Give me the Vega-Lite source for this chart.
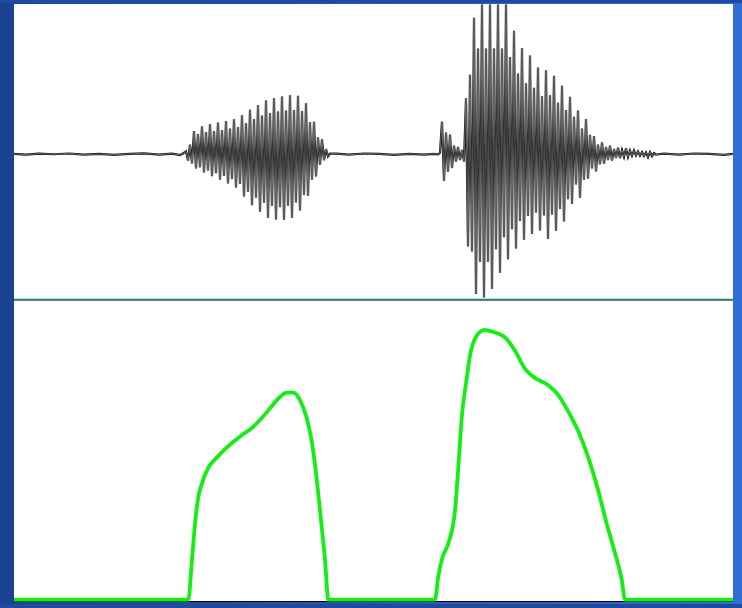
{
  "$schema": "https://vega.github.io/schema/vega-lite/v6.json",
  "width": 742,
  "height": 608,
  "autosize": {"type": "fit", "contains": "padding"},
  "padding": 0,
  "background": "#1f4a9e",
  "config": {"view": {"stroke": null}},
  "datasets": {
    "wave": [
      {"t":0,"a":0.003},{"t":12,"a":-0.002},{"t":25,"a":0.004},{"t":40,"a":0},{"t":55,"a":0.005},{"t":70,"a":-0.003},{"t":85,"a":0.002},{"t":100,"a":-0.004},{"t":115,"a":0.003},{"t":130,"a":0.006},{"t":145,"a":-0.002},{"t":158,"a":0.004},{"t":166,"a":-0.006},{"t":170,"a":0.01},
      {"t":172,"a":0.02},{"t":174,"a":-0.044},{"t":176,"a":0.066},{"t":178,"a":-0.063},{"t":180,"a":0.159},{"t":182,"a":-0.098},{"t":184,"a":0.138},{"t":186,"a":-0.09},{"t":188,"a":0.193},{"t":190,"a":-0.126},{"t":192,"a":0.152},{"t":194,"a":-0.111},{"t":196,"a":0.208},{"t":198,"a":-0.151},{"t":200,"a":0.16},{"t":202,"a":-0.13},{"t":204,"a":0.218},{"t":206,"a":-0.175},{"t":208,"a":0.167},{"t":210,"a":-0.15},{"t":212,"a":0.229},{"t":214,"a":-0.201},{"t":216,"a":0.176},{"t":218,"a":-0.171},{"t":220,"a":0.24},{"t":222,"a":-0.228},{"t":224,"a":0.188},{"t":226,"a":-0.205},{"t":228,"a":0.268},{"t":230,"a":-0.29},{"t":232,"a":0.215},{"t":234,"a":-0.258},{"t":236,"a":0.306},{"t":238,"a":-0.351},{"t":240,"a":0.242},{"t":242,"a":-0.299},{"t":244,"a":0.338},{"t":246,"a":-0.396},{"t":248,"a":0.266},{"t":250,"a":-0.334},{"t":252,"a":0.37},{"t":254,"a":-0.437},{"t":256,"a":0.284},{"t":258,"a":-0.354},{"t":260,"a":0.385},{"t":262,"a":-0.449},{"t":264,"a":0.294},{"t":266,"a":-0.365},{"t":268,"a":0.397},{"t":270,"a":-0.45},{"t":272,"a":0.301},{"t":274,"a":-0.354},{"t":276,"a":0.405},{"t":278,"a":-0.437},{"t":280,"a":0.305},{"t":282,"a":-0.332},{"t":284,"a":0.402},{"t":286,"a":-0.387},{"t":288,"a":0.297},{"t":290,"a":-0.281},{"t":292,"a":0.351},{"t":294,"a":-0.285},{"t":296,"a":0.22},{"t":298,"a":-0.175},{"t":300,"a":0.223},{"t":302,"a":-0.153},{"t":304,"a":0.117},{"t":306,"a":-0.074},{"t":308,"a":0.102},{"t":310,"a":-0.041},{"t":312,"a":0.035},{"t":314,"a":-0.014},{"t":316,"a":0.005},
      {"t":322,"a":0.004},{"t":335,"a":-0.003},{"t":350,"a":0.005},{"t":365,"a":0.002},{"t":380,"a":-0.004},{"t":395,"a":0.003},{"t":410,"a":-0.002},{"t":420,"a":0.003},
      {"t":424,"a":0},{"t":426,"a":0.01},{"t":428,"a":0.224},{"t":430,"a":-0.184},{"t":432,"a":0.15},{"t":434,"a":-0.12},{"t":436,"a":0.136},{"t":438,"a":-0.095},{"t":440,"a":0.06},{"t":442,"a":-0.05},{"t":444,"a":0.05},{"t":446,"a":-0.04},{"t":448,"a":0.03},{"t":450,"a":-0.05},
      {"t":452,"a":0.385},{"t":454,"a":-0.635},{"t":456,"a":0.547},{"t":458,"a":-0.67},{"t":460,"a":0.939},{"t":462,"a":-0.961},{"t":464,"a":0.728},{"t":466,"a":-0.74},{"t":468,"a":1.03},{"t":470,"a":-0.986},{"t":472,"a":0.728},{"t":474,"a":-0.74},{"t":476,"a":1.03},{"t":478,"a":-0.927},{"t":480,"a":0.728},{"t":482,"a":-0.653},{"t":484,"a":1.03},{"t":486,"a":-0.816},{"t":488,"a":0.728},{"t":490,"a":-0.572},{"t":492,"a":1.03},{"t":494,"a":-0.723},{"t":496,"a":0.669},{"t":498,"a":-0.516},{"t":500,"a":0.849},{"t":502,"a":-0.649},{"t":504,"a":0.555},{"t":506,"a":-0.459},{"t":508,"a":0.729},{"t":510,"a":-0.589},{"t":512,"a":0.488},{"t":514,"a":-0.425},{"t":516,"a":0.68},{"t":518,"a":-0.548},{"t":520,"a":0.457},{"t":522,"a":-0.401},{"t":524,"a":0.597},{"t":526,"a":-0.524},{"t":528,"a":0.399},{"t":530,"a":-0.422},{"t":532,"a":0.578},{"t":534,"a":-0.584},{"t":536,"a":0.405},{"t":538,"a":-0.414},{"t":540,"a":0.54},{"t":542,"a":-0.526},{"t":544,"a":0.354},{"t":546,"a":-0.377},{"t":548,"a":0.472},{"t":550,"a":-0.463},{"t":552,"a":0.304},{"t":554,"a":-0.31},{"t":556,"a":0.395},{"t":558,"a":-0.342},{"t":560,"a":0.258},{"t":562,"a":-0.208},{"t":564,"a":0.3},{"t":566,"a":-0.299},{"t":568,"a":0.177},{"t":570,"a":-0.175},{"t":572,"a":0.243},{"t":574,"a":-0.168},{"t":576,"a":0.133},{"t":578,"a":-0.098},{"t":580,"a":0.125},{"t":582,"a":-0.119},{"t":584,"a":0.067},{"t":586,"a":-0.069},{"t":588,"a":0.082},{"t":590,"a":-0.065},{"t":592,"a":0.05},{"t":594,"a":-0.041},{"t":596,"a":0.059},{"t":598,"a":-0.044},{"t":600,"a":0.036},{"t":602,"a":-0.026},{"t":604,"a":0.045},{"t":606,"a":-0.027},{"t":608,"a":0.029},{"t":610,"a":-0.018},{"t":612,"a":0.041},{"t":614,"a":-0.018},{"t":616,"a":0.025},{"t":618,"a":-0.01},{"t":620,"a":0.026},{"t":622,"a":-0.008},{"t":624,"a":0.019},{"t":626,"a":-0.01},{"t":628,"a":0.015},{"t":630,"a":-0.012},{"t":632,"a":0.012},{"t":634,"a":-0.02},{"t":636,"a":0.015},{"t":638,"a":-0.012},{"t":640,"a":0.008},{"t":642,"a":-0.003},
      {"t":650,"a":0.004},{"t":665,"a":-0.003},{"t":680,"a":0.005},{"t":695,"a":0.002},{"t":710,"a":-0.004},{"t":719,"a":0.002}
    ],
    "env": [
      {"t":0,"e":0},{"t":174.3,"e":0},{"t":177.7,"e":0.134},{"t":181,"e":0.28},{"t":184.3,"e":0.378},{"t":187.7,"e":0.426},{"t":194.3,"e":0.487},{"t":202.7,"e":0.524},{"t":216,"e":0.572},{"t":227.7,"e":0.607},{"t":237.7,"e":0.633},{"t":247.7,"e":0.67},{"t":256,"e":0.706},{"t":264.3,"e":0.742},{"t":272.7,"e":0.764},{"t":279.3,"e":0.764},{"t":286,"e":0.736},{"t":292.7,"e":0.67},{"t":297.7,"e":0.585},{"t":301,"e":0.499},{"t":304.3,"e":0.39},{"t":307.7,"e":0.268},{"t":311,"e":0.147},{"t":314.3,"e":0},
      {"t":421,"e":0},{"t":424.3,"e":0.086},{"t":428.3,"e":0.153},{"t":434.3,"e":0.207},{"t":441,"e":0.329},{"t":444.3,"e":0.487},{"t":447.7,"e":0.67},{"t":452.7,"e":0.816},{"t":456,"e":0.901},{"t":462.7,"e":0.974},{"t":470.3,"e":0.996},{"t":479.3,"e":0.988},{"t":491,"e":0.968},{"t":501,"e":0.919},{"t":511,"e":0.852},{"t":521,"e":0.818},{"t":534.3,"e":0.791},{"t":544.3,"e":0.755},{"t":554.3,"e":0.694},{"t":564.3,"e":0.621},{"t":574.3,"e":0.524},{"t":584.3,"e":0.402},{"t":592.7,"e":0.28},{"t":601,"e":0.171},{"t":607.7,"e":0.074},{"t":611,"e":0},{"t":719,"e":0}
    ]
  },
  "layer": [
    {
      "layer": [
        {
          "data": {"values": [{}]},
          "mark": {"type": "rect", "fill": {"gradient": "linear", "x1": 0, "x2": 1, "y1": 0, "y2": 0, "stops": [{"offset": 0, "color": "#1a4290"}, {"offset": 1, "color": "#2f6fd6"}]}},
          "encoding": {
            "x": {"datum": -14, "type": "quantitative", "scale": {"domain": [-14, 728], "nice": false, "zero": false}, "axis": null},
            "x2": {"datum": 728},
            "y": {"datum": -3.09524, "type": "quantitative", "scale": {"domain": [-3.09524, 1.04082], "nice": false, "zero": false}, "axis": null},
            "y2": {"datum": 1.04082}
          }
        },
        {
          "data": {"values": [{}]},
          "mark": {"type": "rect", "fill": "#ffffff"},
          "encoding": {
            "x": {"datum": 0, "type": "quantitative", "scale": {"domain": [-14, 728], "nice": false, "zero": false}, "axis": null},
            "x2": {"datum": 719},
            "y": {"datum": -3.0782, "type": "quantitative", "scale": {"domain": [-3.09524, 1.04082], "nice": false, "zero": false}, "axis": null},
            "y2": {"datum": 1.034}
          }
        },
        {
          "data": {"values": [{}]},
          "mark": {"type": "rule", "stroke": "#3aaeb4", "strokeWidth": 1, "strokeDash": [2, 2]},
          "encoding": {
            "x": {"datum": 0, "type": "quantitative", "scale": {"domain": [-14, 728], "nice": false, "zero": false}, "axis": null},
            "x2": {"datum": 719},
            "y": {"datum": 0, "type": "quantitative", "scale": {"domain": [-3.09524, 1.04082], "nice": false, "zero": false}, "axis": null}
          }
        },
        {
          "data": {"name": "wave"},
          "mark": {"type": "line", "stroke": "#151515", "strokeWidth": 2.2},
          "encoding": {
            "x": {"field": "t", "type": "quantitative", "scale": {"domain": [-14, 728], "nice": false, "zero": false}, "axis": null},
            "y": {"field": "a", "type": "quantitative", "scale": {"domain": [-3.09524, 1.04082], "nice": false, "zero": false}, "axis": null}
          }
        },
        {
          "data": {"name": "wave"},
          "mark": {"type": "line", "stroke": "#8c8c8c", "strokeWidth": 0.7},
          "encoding": {
            "x": {"field": "t", "type": "quantitative", "scale": {"domain": [-14, 728], "nice": false, "zero": false}, "axis": null},
            "y": {"field": "a", "type": "quantitative", "scale": {"domain": [-3.09524, 1.04082], "nice": false, "zero": false}, "axis": null}
          }
        },
        {
          "data": {"values": [{}]},
          "mark": {"type": "rule", "stroke": "#22c8d0", "strokeWidth": 1},
          "encoding": {
            "x": {"datum": 0, "type": "quantitative", "scale": {"domain": [-14, 728], "nice": false, "zero": false}, "axis": null},
            "x2": {"datum": 719},
            "y": {"datum": -0.9966, "type": "quantitative", "scale": {"domain": [-3.09524, 1.04082], "nice": false, "zero": false}, "axis": null}
          }
        },
        {
          "data": {"values": [{}]},
          "mark": {"type": "rule", "stroke": "#000000", "strokeWidth": 1},
          "encoding": {
            "x": {"datum": 0, "type": "quantitative", "scale": {"domain": [-14, 728], "nice": false, "zero": false}, "axis": null},
            "x2": {"datum": 719},
            "y": {"datum": -1.0034, "type": "quantitative", "scale": {"domain": [-3.09524, 1.04082], "nice": false, "zero": false}, "axis": null}
          }
        },
        {
          "data": {"values": [{}]},
          "mark": {"type": "rule", "stroke": "#000000", "strokeWidth": 1},
          "encoding": {
            "x": {"datum": 0, "type": "quantitative", "scale": {"domain": [-14, 728], "nice": false, "zero": false}, "axis": null},
            "x2": {"datum": 719},
            "y": {"datum": -3.0782, "type": "quantitative", "scale": {"domain": [-3.09524, 1.04082], "nice": false, "zero": false}, "axis": null}
          }
        }
      ]
    },
    {
      "data": {"name": "env"},
      "mark": {"type": "line", "stroke": "#14ee14", "strokeWidth": 3.8, "interpolate": "monotone"},
      "encoding": {
        "x": {"field": "t", "type": "quantitative", "scale": {"domain": [-14, 728], "nice": false, "zero": false}, "axis": null},
        "y": {"field": "e", "type": "quantitative", "scale": {"domain": [-0.0164, 2.2026], "nice": false, "zero": false}, "axis": null}
      }
    }
  ],
  "resolve": {"scale": {"y": "independent"}}
}
